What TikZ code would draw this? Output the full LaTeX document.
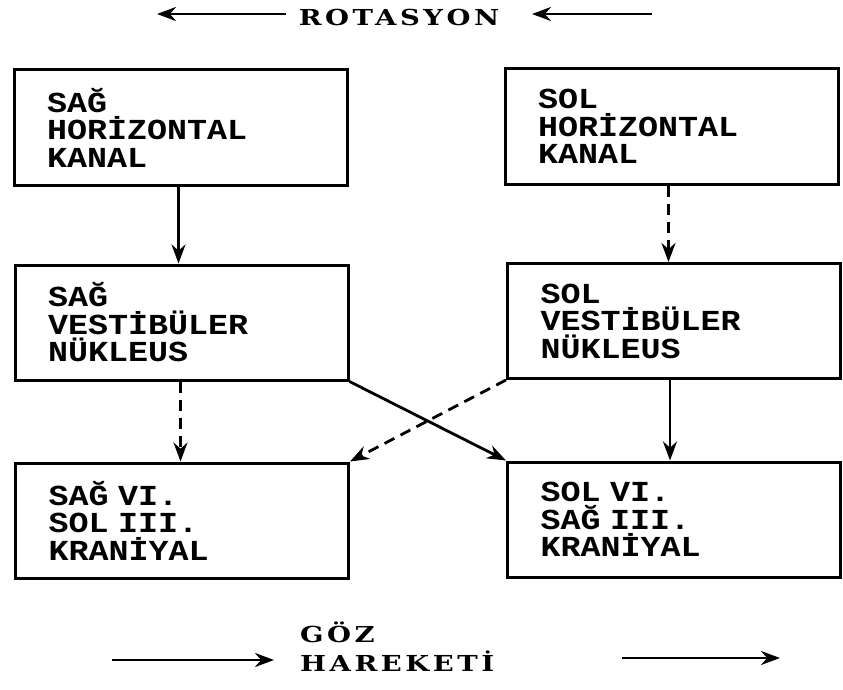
\documentclass[tikz,border=0pt]{standalone}
\usepackage{fontspec}
\usetikzlibrary{arrows.meta}
\newfontfamily\boxfont{Liberation Mono}[BoldFont={* Bold},FakeStretch=1.15]
\newfontfamily\titlefont{DejaVu Serif}[BoldFont={* Bold},FakeStretch=1.25,LetterSpace=16]
\begin{document}
\begin{tikzpicture}[x=1pt,y=-1pt,
  box/.style={draw,line width=3pt,minimum width=333pt,minimum height=115pt,
    text width=267pt,inner xsep=33pt,inner ysep=0pt,align=left,
    font={\boxfont\bfseries\fontsize{29}{27.5}\selectfont}},
  ttl/.style={font={\titlefont\bfseries\fontsize{22}{29}\selectfont},inner sep=0pt},
  arr/.style={line width=2.8pt,-{Stealth[length=19pt,width=14pt]}},
  dsh/.style={arr,dash pattern=on 11pt off 7pt}]
\useasboundingbox (0,0) rectangle (843,690);
\fill[white] (0,0) rectangle (843,690);
% title
\node[ttl] (rot) at (399,17) {ROTASYON};
\coordinate (t1s) at (286,14); \coordinate (t1e) at (157,14);
\coordinate (t2s) at (652,14); \coordinate (t2e) at (532,14);
\draw[arr] (t1s) -- (t1e);
\draw[arr] (t2s) -- (t2e);
% boxes
\node[box] (b1) at (180.5,127.5) {SAĞ\\HORİZONTAL\\KANAL};
\node[box] (b2) at (671.5,126.5) {SOL\\HORİZONTAL\\KANAL};
\node[box] (b3) at (181.5,322.5) {SAĞ\\VESTİBÜLER\\NÜKLEUS};
\node[box] (b4) at (674,321) {SOL\\VESTİBÜLER\\NÜKLEUS};
\node[box] (b5) at (182,520.5) {SAĞ VI.\\SOL III.\\KRANİYAL};
\node[box] (b6) at (674,519.5) {SOL VI.\\SAĞ III.\\KRANİYAL};
% connectors
\draw[arr] ([xshift=-2pt]b1.south) -- ([xshift=-2pt]b1.south |- b3.north);
\draw[dsh] ([xshift=-3pt]b2.south) -- ([xshift=-3pt]b2.south |- b4.north);
\draw[dsh] ([xshift=-1pt]b3.south) -- ([xshift=-1pt]b3.south |- b5.north);
\draw[arr] ([xshift=-4pt]b4.south) -- ([xshift=-4pt]b4.south |- b6.north);
\draw[arr] (b3.south east) -- (b6.north west);
\draw[dsh] (b4.south west) -- (b5.north east);
% bottom
\node[ttl,anchor=base west] (goz) at (300,642) {GÖZ};
\node[ttl,anchor=base west] (har) at (300,671) {HAREKETİ};
\coordinate (u1s) at (112,660); \coordinate (u1e) at (274,660);
\coordinate (u2s) at (622,658); \coordinate (u2e) at (780,658);
\draw[arr] (u1s) -- (u1e);
\draw[arr] (u2s) -- (u2e);
\end{tikzpicture}
\end{document}
